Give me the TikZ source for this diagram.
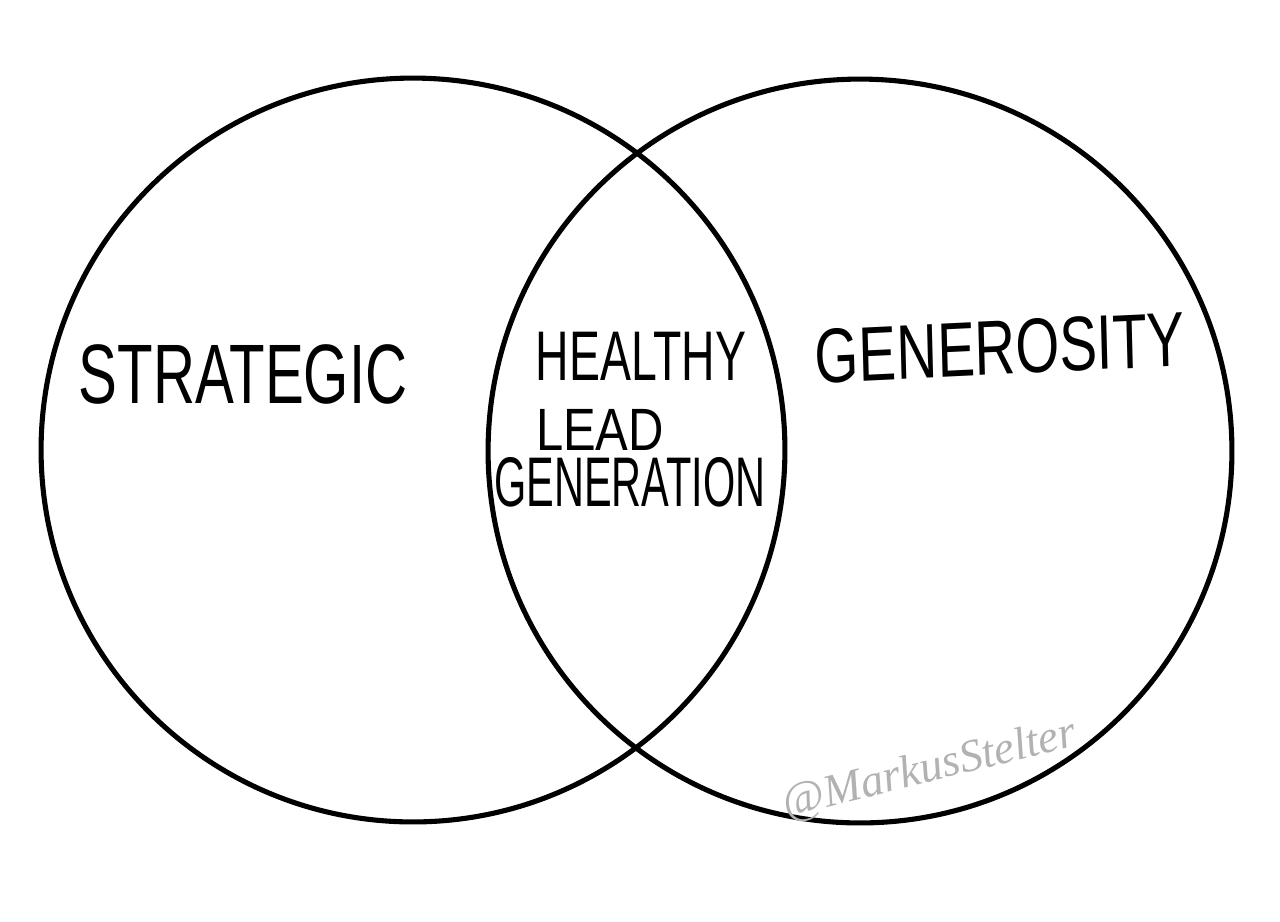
\documentclass[tikz,border=0pt]{standalone}
\usepackage{fontspec}
\setmainfont{Liberation Sans}
\newfontfamily\signfont{Liberation Serif}
\usetikzlibrary{positioning}

\begin{document}
\begin{tikzpicture}[
  x=0.02cm, y=-0.02cm,
  set/.style={draw, circle, line width=2.9pt, minimum size=14.88cm, inner sep=0pt},
  hand/.style={font=\fontsize{#1}{#1}\selectfont, inner sep=0pt},
  sign/.style={font=\fontsize{26}{26}\selectfont\signfont\itshape, text=gray!60, inner sep=0pt}
]
\useasboundingbox (0,0) rectangle (1280,921);
% the two sets
\node[set] (left)  at (413,450) {};
\node[set] (right) at (860,451) {};

% labels
\node[hand=48pt, xscale=0.69] (strat) at (243,374) {STRATEGIC};
\node[hand=44pt, xscale=0.73, rotate=2] (gen) at (1000,348) {GENEROSITY};
\node[hand=40pt, xscale=0.66] (healthy) at (641,356) {HEALTHY};
\node[hand=34pt, xscale=0.82] (lead) at (600,430) {LEAD};
\node[hand=40pt, xscale=0.59] (leadgen) at (630,482) {GENERATION};

% signature
\node[sign, rotate=14] (sig) at (930,770) {@MarkusStelter};
\end{tikzpicture}
\end{document}
